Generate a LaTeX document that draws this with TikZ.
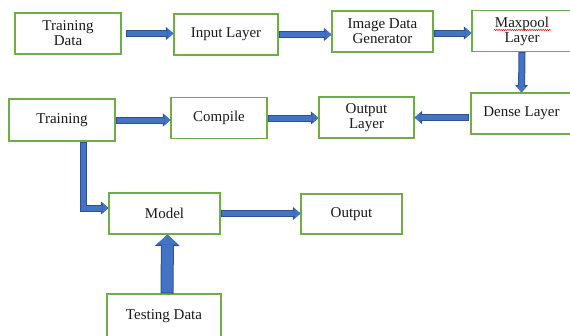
\documentclass[tikz,border=0pt]{standalone}
\usepackage{fontspec}
\setmainfont{Liberation Serif}
\usepackage{tikz}
\usetikzlibrary{positioning}
\usetikzlibrary{calc}
\usetikzlibrary{arrows, arrows.meta}
\usetikzlibrary{decorations.pathmorphing}

\definecolor{boxgreen}{HTML}{70AD47}
\definecolor{flowfill}{HTML}{4472C4}
\definecolor{flowedge}{HTML}{2F528F}
\definecolor{txt}{HTML}{1A1A1A}

\tikzset{
  block/.style={draw=boxgreen, line width=1.1pt, fill=white, text=txt,
    minimum height=41pt, inner sep=0pt, align=center,
    font=\fontsize{15}{15}\selectfont},
  flow/.style={draw=flowfill, line width=5pt, shorten <=1pt,
    -{Triangle[length=6pt,width=10.5pt,line width=0pt]},
    preaction={draw=flowedge, line width=7pt, shorten <=0pt,
      -{Triangle[length=7.5pt,width=13pt,line width=0pt]}}},
  bigflow/.style={draw=flowfill, line width=11pt, shorten <=1pt,
    -{Triangle[length=10pt,width=22pt,line width=0pt]},
    preaction={draw=flowedge, line width=13pt, shorten <=0pt,
      -{Triangle[length=11.5pt,width=25pt,line width=0pt]}}},
}

\begin{document}
\begin{tikzpicture}[x=1pt, y=-1pt]
  \useasboundingbox (0,0) rectangle (570,335);

  % top row
  \node[block, minimum width=106pt] (trdata) at (68,33.5) {Training\\Data};
  \node[block, minimum width=104pt] (input) at (226,34.5) {Input Layer};
  \node[block, minimum width=101pt] (idg) at (382.5,31.5) {Image Data\\Generator};
  \node[block, minimum width=100pt] (maxpool) at (522,31) {Maxpool\\Layer};

  % middle row
  \node[block, minimum width=101pt] (dense) at (521.5,113.5) {Dense Layer};
  \node[block, minimum width=95pt] (outlayer) at (366.5,117.5) {Output\\Layer};
  \node[block, minimum width=96pt] (compile) at (219,118) {Compile};
  \node[block, minimum width=106pt, minimum height=42pt] (training) at (62,120) {Training};

  % bottom
  \node[block, minimum width=111pt] (model) at (164.5,213.5) {Model};
  \node[block, minimum width=101pt, minimum height=40pt] (output) at (351.5,214) {Output};
  \node[block, minimum width=114pt, minimum height=44pt] (testing) at (164,316) {Testing Data};

  % spell-check squiggle under Maxpool
  \draw[red!85!black, line width=0.5pt, decorate,
    decoration={snake, amplitude=0.6pt, segment length=2.2pt}] (494,30) -- (551,30);

  % arrows
  \draw[flow] ([xshift=4pt]trdata.east) -- (trdata.east -| input.west);
  \draw[flow] (input.east) -- (input.east -| idg.west);
  \draw[flow] ([yshift=-1.5pt]idg.east) -- ([yshift=-1.5pt]idg.east -| maxpool.west);
  \draw[flow] (maxpool.south) -- (dense.north);
  \draw[flow] ([xshift=-1pt]dense.west |- outlayer.east) -- (outlayer.east);
  \draw[flow] (compile.east) -- (compile.east -| outlayer.west);
  \draw[flow] (training.east) -- (training.east -| compile.west);
  \draw[flow] ([xshift=21pt]training.south) |- ([yshift=5.5pt]model.west);
  \draw[flow] (model.east) -- (model.east -| output.west);
  \draw[bigflow] ([xshift=3pt]testing.north) -- ([xshift=3pt]model.south);
\end{tikzpicture}
\end{document}
